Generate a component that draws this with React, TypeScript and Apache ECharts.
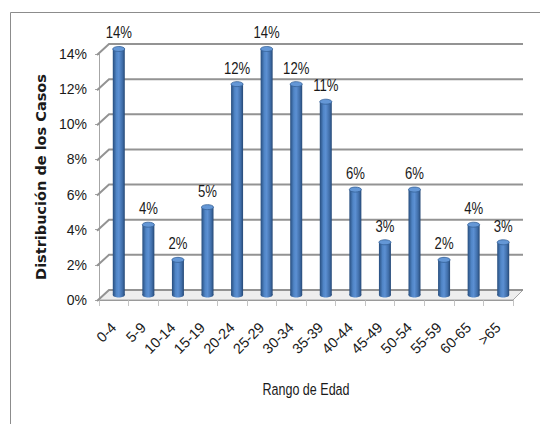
import { useEffect, useRef } from "react";
import * as echarts from "echarts";

// Age ranges and the share of cases (in %) for each
const ageGroups = ["0-4", "5-9", "10-14", "15-19", "20-24", "25-29", "30-34", "35-39", "40-44", "45-49", "50-54", "55-59", "60-65", ">65"];
const caseShare = [14, 4, 2, 5, 12, 14, 12, 11, 6, 3, 6, 2, 4, 3];
const shareTicks = [0, 2, 4, 6, 8, 10, 12, 14];

// Pixel depth of the pseudo-3D back wall
const DEPTH = 10;
const LABEL_FONT = "'Liberation Sans', Arial, sans-serif";

export default function App() {
  const ref = useRef<HTMLDivElement>(null);

  useEffect(() => {
    if (!ref.current) return;
    const chart = echarts.init(ref.current, null, { renderer: "svg" });

    const wallRender = (params: any, api: any) => {
      const cs = params.coordSys;
      const v = api.value(1);
      const y = api.coord([0, v])[1];
      const x0 = cs.x;
      const x1 = cs.x + cs.width;
      const children: any[] = [];
      if (v === 0) {
        children.push({
          type: "polygon",
          shape: { points: [[x0, y], [x1, y], [x1 + DEPTH, y - DEPTH], [x0 + DEPTH, y - DEPTH]] },
          style: { fill: "#eeeeee", stroke: "#a6a6a6", lineWidth: 1 },
        });
      }
      children.push({
        type: "polyline",
        shape: { points: [[x0 - 2, y + 1], [x0 + DEPTH, y - DEPTH], [x1 + DEPTH, y - DEPTH]] },
        style: { fill: "none", stroke: "#939393", lineWidth: 2 },
      });
      return { type: "group", children };
    };

    const barRender = (params: any, api: any) => {
      const i = api.value(0);
      const v = api.value(1);
      const top = api.coord([i, v]);
      const base = api.coord([i, 0]);
      const cx = top[0] + DEPTH / 2;
      const ty = top[1] - DEPTH / 2;
      const by = base[1] - DEPTH / 2;
      const rx = 6;
      const ry = 2.5;
      const body = new echarts.graphic.LinearGradient(0, 0, 1, 0, [
        { offset: 0, color: "#274d7d" },
        { offset: 0.3, color: "#5085c6" },
        { offset: 0.5, color: "#5c90d3" },
        { offset: 0.8, color: "#406ea9" },
        { offset: 1, color: "#254875" },
      ]);
      return {
        type: "group",
        children: [
          { type: "ellipse", shape: { cx, cy: by, rx, ry }, style: { fill: body } },
          { type: "rect", shape: { x: cx - rx, y: ty, width: rx * 2, height: by - ty }, style: { fill: body } },
          {
            type: "ellipse",
            shape: { cx, cy: ty, rx, ry },
            style: { fill: "#6497d6", stroke: "#335f96", lineWidth: 0.8 },
          },
          {
            type: "text",
            x: cx,
            y: ty - 8,
            scaleX: 0.82,
            style: {
              text: v + "%",
              fill: "#1a1a1a",
              fontSize: 16,
              fontFamily: LABEL_FONT,
              align: "center",
              verticalAlign: "bottom",
            },
          },
        ],
      };
    };

    chart.setOption({
      animation: false,
      backgroundColor: "#ffffff",
      graphic: [
        {
          type: "rect",
          shape: { x: 10.5, y: 12.5, width: 560, height: 440 },
          style: { fill: "none", stroke: "#8c8c8c", lineWidth: 1 },
          silent: true,
        },
        {
          // x-axis title, set in a narrow face
          type: "text",
          x: 306,
          y: 389,
          scaleX: 0.76,
          style: {
            text: "Rango de Edad",
            fontSize: 16.5,
            fontFamily: LABEL_FONT,
            fill: "#1a1a1a",
            align: "center",
            verticalAlign: "middle",
          },
          silent: true,
        },
      ],
      grid: { left: 99, right: 27, top: 54, bottom: 124 },
      xAxis: {
        type: "category",
        data: ageGroups,
        axisLine: { show: true, lineStyle: { color: "#8f8f8f", width: 2 } },
        axisTick: { show: true, length: 6, lineStyle: { color: "#c4c4c4" } },
        axisLabel: {
          rotate: 45,
          margin: 25,
          fontSize: 14.5,
          fontFamily: LABEL_FONT,
          color: "#1a1a1a",
          interval: 0,
        },
      },
      yAxis: {
        type: "value",
        min: 0,
        max: 14,
        interval: 2,
        axisLine: { show: true, lineStyle: { color: "#a6a6a6", width: 1 } },
        axisTick: { show: true, length: 4, lineStyle: { color: "#a6a6a6" } },
        splitLine: { show: false },
        axisLabel: {
          formatter: "{value}%",
          margin: 12,
          fontSize: 14,
          fontFamily: LABEL_FONT,
          color: "#1a1a1a",
        },
        name: "Distribución de los Casos",
        nameLocation: "middle",
        nameRotate: 90,
        nameGap: 43,
        nameTextStyle: { fontSize: 14.5, fontWeight: "bold", fontFamily: "'DejaVu Sans', sans-serif", color: "#1a1a1a" },
      },
      series: [
        {
          type: "custom",
          renderItem: wallRender,
          data: shareTicks.map((v) => [0, v]),
          encode: { x: 0, y: 1 },
          silent: true,
          z: 1,
        },
        {
          type: "custom",
          renderItem: barRender,
          data: caseShare.map((v, i) => [i, v]),
          encode: { x: 0, y: 1 },
          z: 3,
        },
      ],
    });

    return () => chart.dispose();
  }, []);

  return (
    <div
      ref={ref}
      style={{ position: "absolute", left: 0, top: 0, width: 540, height: 424, background: "#fff" }}
    />
  );
}
